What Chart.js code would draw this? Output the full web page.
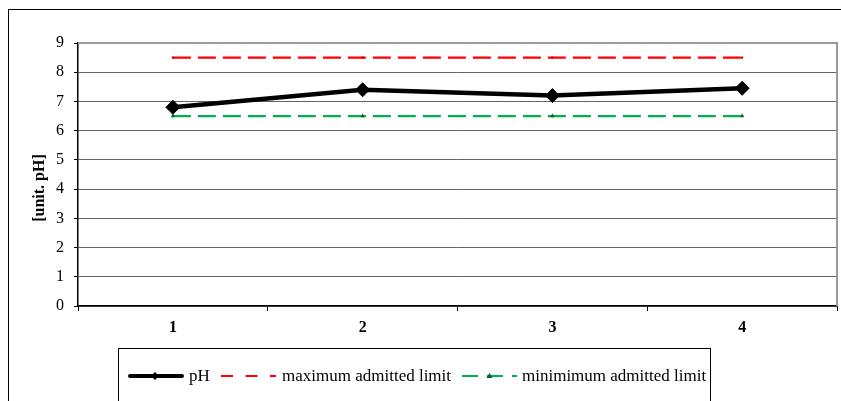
<!DOCTYPE html>
<html>
<head>
<meta charset="utf-8">
<script src="https://cdn.jsdelivr.net/npm/chart.js@4/dist/chart.umd.min.js"></script>
<style>
  html, body { margin: 0; padding: 0; background: #fff; }
  #wrap { width: 841px; height: 401px; position: relative; }
</style>
</head>
<body>
<div id="wrap"><canvas id="c" width="841" height="401"></canvas></div>
<script>
// Sampling points and measured pH
const categories = ['1', '2', '3', '4'];
const phValues = [6.8, 7.4, 7.2, 7.45];
const maxLimit = [8.5, 8.5, 8.5, 8.5];
const minLimit = [6.5, 6.5, 6.5, 6.5];
const yTicks = [0, 1, 2, 3, 4, 5, 6, 7, 8, 9];
const yTitle = '[unit. pH]';

const SERIF = '"Liberation Serif", "Times New Roman", serif';

// Frame, plot border, axis title and legend drawn onto the canvas
const decorations = {
  id: 'decorations',
  beforeDraw(chart) {
    const ctx = chart.ctx;
    ctx.save();
    ctx.fillStyle = '#fff';
    ctx.fillRect(0, 0, chart.width, chart.height);
    ctx.strokeStyle = '#000';
    ctx.lineWidth = 1;
    ctx.strokeRect(8.5, 9.5, 1000, 1000);
    ctx.restore();
  },
  beforeDatasetsDraw(chart) {
    const { ctx, chartArea: a } = chart;
    ctx.save();
    ctx.strokeStyle = '#9a9a9a';
    ctx.lineWidth = 2;
    ctx.beginPath();
    ctx.moveTo(a.left, a.top);
    ctx.lineTo(a.right, a.top);
    ctx.lineTo(a.right, a.bottom);
    ctx.stroke();
    ctx.restore();
  },
  afterDraw(chart) {
    const { ctx } = chart;
    ctx.save();
    // y axis title
    ctx.translate(40, 188);
    ctx.rotate(-Math.PI / 2);
    ctx.font = 'bold 16px ' + SERIF;
    ctx.fillStyle = '#000';
    ctx.textAlign = 'center';
    ctx.textBaseline = 'middle';
    ctx.fillText(yTitle, 0, 0);
    ctx.restore();

    // legend box
    ctx.save();
    ctx.strokeStyle = '#000';
    ctx.lineWidth = 1;
    ctx.strokeRect(118.5, 348.5, 592, 100);
    const ly = 376;
    ctx.font = '17px ' + SERIF;
    ctx.fillStyle = '#000';
    ctx.textBaseline = 'middle';
    const ds = chart.data.datasets;

    // pH sample
    ctx.strokeStyle = ds[0].borderColor;
    ctx.lineWidth = 4;
    ctx.lineCap = 'round';
    ctx.beginPath(); ctx.moveTo(130, ly); ctx.lineTo(182, ly); ctx.stroke();
    ctx.fillStyle = '#000';
    ctx.beginPath();
    ctx.moveTo(151, ly); ctx.lineTo(155, ly - 4); ctx.lineTo(159, ly); ctx.lineTo(155, ly + 4);
    ctx.closePath(); ctx.fill();
    ctx.fillText(ds[0].label, 189, ly + 1);

    // maximum limit sample
    ctx.lineCap = 'butt';
    ctx.strokeStyle = ds[1].borderColor;
    ctx.lineWidth = 2;
    ctx.setLineDash([12, 12.5]);
    ctx.beginPath(); ctx.moveTo(221, ly); ctx.lineTo(276, ly); ctx.stroke();
    ctx.setLineDash([]);
    ctx.fillStyle = '#000';
    ctx.fillText(ds[1].label, 282, ly + 1);

    // minimum limit sample
    ctx.strokeStyle = ds[2].borderColor;
    ctx.setLineDash([16, 9]);
    ctx.beginPath(); ctx.moveTo(462, ly); ctx.lineTo(517, ly); ctx.stroke();
    ctx.setLineDash([]);
    ctx.fillStyle = ds[2].pointBackgroundColor;
    ctx.beginPath();
    ctx.moveTo(489.5, ly - 3); ctx.lineTo(492.5, ly + 2); ctx.lineTo(486.5, ly + 2);
    ctx.closePath(); ctx.fill();
    ctx.fillStyle = '#000';
    ctx.fillText(ds[2].label, 522, ly + 1);
    ctx.restore();
  }
};

new Chart(document.getElementById('c'), {
  type: 'line',
  data: {
    labels: categories,
    datasets: [
      {
        label: 'pH',
        data: phValues,
        borderColor: '#000',
        backgroundColor: '#000',
        borderWidth: 4.5,
        pointStyle: 'rectRot',
        pointRadius: 7,
        pointBorderWidth: 1,
        pointBackgroundColor: '#000',
        pointBorderColor: '#000',
        tension: 0,
        order: 0
      },
      {
        label: 'maximum admitted limit',
        data: maxLimit,
        borderColor: '#ff0000',
        backgroundColor: '#ff0000',
        borderWidth: 2.2,
        borderDash: [18, 7],
        pointStyle: 'rect',
        pointRadius: 1.5,
        pointBorderWidth: 0,
        pointBackgroundColor: '#c00000',
        tension: 0,
        order: 1
      },
      {
        label: 'minimimum admitted limit',
        data: minLimit,
        borderColor: '#00b050',
        backgroundColor: '#00b050',
        borderWidth: 2.2,
        borderDash: [18, 7],
        pointStyle: 'triangle',
        pointRadius: 2.5,
        pointBorderWidth: 0,
        pointBackgroundColor: '#00602c',
        tension: 0,
        order: 2
      }
    ]
  },
  options: {
    responsive: false,
    animation: false,
    devicePixelRatio: 1,
    layout: { autoPadding: false, padding: { top: 43, right: 4, left: 0, bottom: 0 } },
    plugins: {
      legend: { display: false },
      tooltip: { enabled: false }
    },
    scales: {
      x: {
        offset: true,
        grid: {
          offset: true,
          drawOnChartArea: false,
          drawTicks: true,
          tickLength: 5,
          tickColor: '#000'
        },
        border: { color: '#000', width: 1.5 },
        ticks: {
          padding: 7,
          color: '#000',
          font: { family: SERIF, size: 16, weight: 'bold' }
        },
        afterFit(scale) { scale.height = 95; }
      },
      y: {
        min: 0,
        max: 9,
        afterBuildTicks(scale) { scale.ticks = yTicks.map(v => ({ value: v })); },
        grid: {
          color: '#646464',
          lineWidth: 1,
          tickLength: 4,
          tickColor: '#000'
        },
        border: { color: '#000', width: 1.5 },
        ticks: {
          padding: 10,
          color: '#000',
          font: { family: SERIF, size: 16 }
        },
        afterFit(scale) { scale.width = 78; }
      }
    }
  },
  plugins: [decorations]
});
</script>
</body>
</html>
